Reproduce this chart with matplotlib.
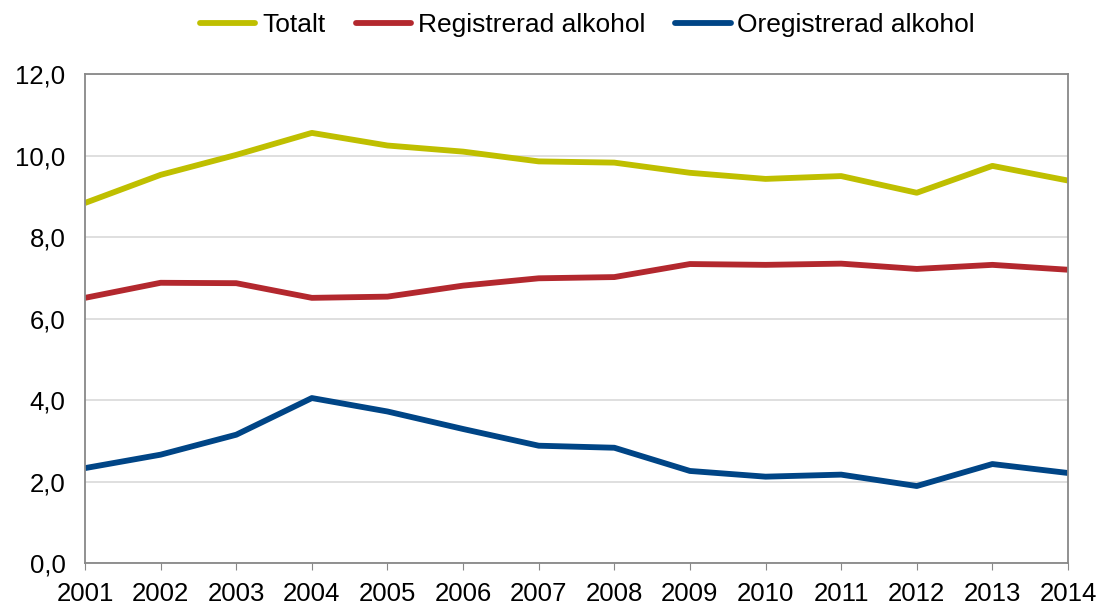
import matplotlib
matplotlib.use("Agg")
import matplotlib.pyplot as plt
from matplotlib.ticker import FuncFormatter

plt.rcParams["font.family"] = ["Liberation Sans", "DejaVu Sans"]

# --- data ---
years = [2001, 2002, 2003, 2004, 2005, 2006, 2007, 2008, 2009, 2010, 2011, 2012, 2013, 2014]
totalt = [8.84, 9.53, 10.02, 10.56, 10.25, 10.10, 9.86, 9.83, 9.58, 9.43, 9.50, 9.09, 9.75, 9.39]
registrerad = [6.51, 6.88, 6.87, 6.51, 6.54, 6.81, 6.99, 7.02, 7.34, 7.32, 7.35, 7.22, 7.32, 7.20]
oregistrerad = [2.33, 2.66, 3.15, 4.05, 3.72, 3.29, 2.88, 2.83, 2.26, 2.12, 2.17, 1.89, 2.43, 2.21]

labels = ["Totalt", "Registrerad alkohol", "Oregistrerad alkohol"]
colors = ["#BFBF00", "#B3282E", "#004586"]

fig = plt.figure(figsize=(11, 6.05), dpi=100)
ax = fig.add_axes([0.0773, 0.0694, 0.8936, 0.8079])

for serie, lab, col in zip([totalt, registrerad, oregistrerad], labels, colors):
    ax.plot(years, serie, color=col, lw=4.2, label=lab, solid_capstyle="butt")

ax.set_xlim(2001, 2014)
ax.set_ylim(0, 12)
ax.set_xticks(years)
ax.set_yticks([0, 2, 4, 6, 8, 10, 12])
ax.yaxis.set_major_formatter(FuncFormatter(lambda v, p: f"{v:.1f}".replace(".", ",")))

ax.grid(axis="y", color="#D9D9D9", lw=1.2)
ax.set_axisbelow(True)
for s in ax.spines.values():
    s.set_color("#888888")
    s.set_linewidth(1.3)

ax.tick_params(axis="x", direction="out", length=5, color="#888888", labelsize=18.5, pad=9)
ax.tick_params(axis="y", length=0, labelsize=18.5, pad=14)

# legend in figure coords, centred above the plot
handles, labs = ax.get_legend_handles_labels()
leg = fig.legend(handles, labs, loc="center", bbox_to_anchor=(0.534, 0.958), ncol=3,
                 frameon=False, fontsize=19, handlelength=2.1, handletextpad=0.25,
                 columnspacing=1.15)
for h in leg.get_lines():
    h.set_solid_capstyle("round")

fig.savefig("out.png", dpi=100)
